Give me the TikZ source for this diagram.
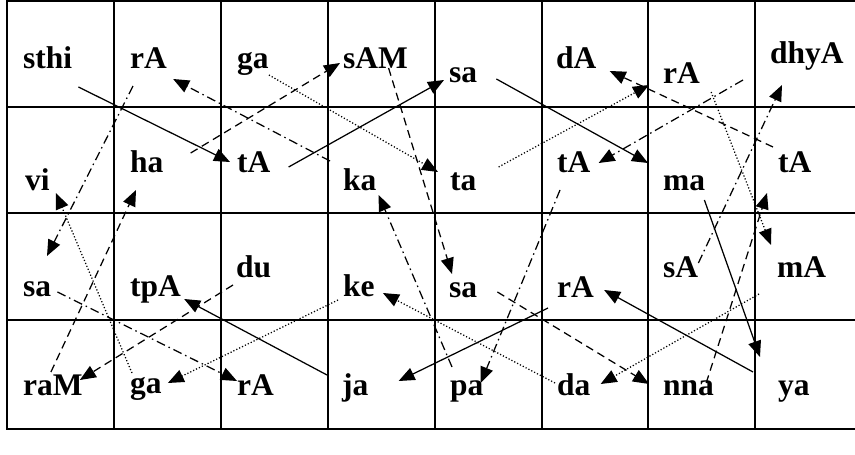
\documentclass[tikz,border=0pt]{standalone}
\usepackage{fontspec}
\setmainfont{Liberation Serif}
\usetikzlibrary{arrows.meta}

\tikzset{
  syl/.style={font=\bfseries\fontsize{31.5}{31.5}\selectfont, inner sep=0pt, anchor=base west},
  hop/.style={line width=1.25pt, -{Triangle[length=16pt,width=13pt]}},
  solidhop/.style={hop},
  dashhop/.style={hop, dash pattern=on 8pt off 5pt},
  dothop/.style={hop, dash pattern=on 1.2pt off 2pt},
  dashdothop/.style={hop, dash pattern=on 9pt off 4pt on 1.5pt off 4pt},
}

\begin{document}
\begin{tikzpicture}[x=1pt,y=-1pt]
  \useasboundingbox (0,0) rectangle (855,455);
  \clip (0,0) rectangle (855,455);

  % 8x4 board
  \foreach \x in {7,114,221,328,435,542,648,755,862}
    \draw[line width=1.5pt] (\x,1) -- (\x,429);
  \foreach \y in {1,107,213,320,429}
    \draw[line width=1.5pt,line cap=rect] (7,\y) -- (862,\y);

  % Row 1
  \node[syl] (sthi) at (23,68) {sthi};
  \node[syl] (rA1) at (130,68) {rA};
  \node[syl] (ga1) at (237,68) {ga};
  \node[syl] (sAM) at (343,68) {sAM};
  \node[syl] (sa1) at (449,82) {sa};
  \node[syl] (dA) at (556,68) {dA};
  \node[syl] (rA2) at (663,83) {rA};
  \node[syl] (dhyA) at (770,63) {dhyA};

  % Row 2
  \node[syl] (vi) at (25,190) {vi};
  \node[syl] (ha) at (130,172) {ha};
  \node[syl] (tA1) at (237,172) {tA};
  \node[syl] (ka) at (343,190) {ka};
  \node[syl] (ta) at (450,190) {ta};
  \node[syl] (tA2) at (557,172) {tA};
  \node[syl] (ma) at (663,190) {ma};
  \node[syl] (tA3) at (778,172) {tA};

  % Row 3
  \node[syl] (sa2) at (23,296) {sa};
  \node[syl] (tpA) at (130,296) {tpA};
  \node[syl] (du) at (236,277) {du};
  \node[syl] (ke) at (343,296) {ke};
  \node[syl] (sa3) at (449,297) {sa};
  \node[syl] (rA3) at (557,297) {rA};
  \node[syl] (sA) at (663,277) {sA};
  \node[syl] (mA) at (777,277) {mA};

  % Row 4
  \node[syl] (raM) at (23,395) {raM};
  \node[syl] (ga2) at (130,393) {ga};
  \node[syl] (rA4) at (237,395) {rA};
  \node[syl] (ja) at (342,395) {ja};
  \node[syl] (pa) at (450,395) {pa};
  \node[syl] (da) at (557,395) {da};
  \node[syl] (nna) at (663,395) {nna};
  \node[syl] (ya) at (778,395) {ya};

  % First verse: solid
  \draw[solidhop] ([shift={(6,19)}]sthi.base east) -- ([shift={(-7,-10)}]tA1.base west);
  \draw[solidhop] ([shift={(18,-5)}]tA1.base east) -- ([shift={(-5,-2)}]sa1.base west);
  \draw[solidhop] ([shift={(19,-3)}]sa1.base east) -- ([shift={(-15,-27)}]ma.base west);
  \draw[solidhop] ([shift={(-1,10)}]ma.base east) -- ([shift={(-18,-38)}]ya.base west);
  \draw[solidhop] ([shift={(-25,-23)}]ya.base west) -- ([shift={(10,-7)}]rA3.base east);
  \draw[solidhop] ([shift={(-9,11)}]rA3.base west) -- ([shift={(30,-14)}]ja.base east);
  \draw[solidhop] ([shift={(-15,-20)}]ja.base west) -- ([shift={(3,3)}]tpA.base east);

  % Second verse: dashed
  \draw[dashhop] ([shift={(-3,8)}]du.base west) -- ([shift={(-3,-15)}]raM.base east);
  \draw[dashhop] ([shift={(-2,-23)}]raM.base) -- ([shift={(6,18)}]ha.base west);
  \draw[dashhop] ([shift={(27,-19)}]ha.base east) -- ([shift={(-3,-5)}]sAM.base west);
  \draw[dashhop] ([shift={(13,0)}]sAM.base) -- ([shift={(3,-23)}]sa3.base west);
  \draw[dashhop] ([shift={(20,-5)}]sa3.base east) -- ([shift={(-14,-11)}]nna.base west);
  \draw[dashhop] ([shift={(-8,-12)}]nna.base east) -- ([shift={(-11,21)}]tA3.base west);
  \draw[dashhop] ([shift={(-5,-25)}]tA3.base west) -- ([shift={(13,3)}]dA.base east);

  % Third verse: dotted
  \draw[dothop] ([shift={(0,7)}]ga1.base east) -- ([shift={(-12,-18)}]ta.base west);
  \draw[dothop] ([shift={(22,-23)}]ta.base east) -- ([shift={(-14,2)}]rA2.base west);
  \draw[dothop] ([shift={(11,9)}]rA2.base east) -- ([shift={(-6,-32)}]mA.base west);
  \draw[dothop] ([shift={(-18,17)}]mA.base west) -- ([shift={(10,-11)}]da.base east);
  \draw[dothop] ([shift={(-2,-12)}]da.base west) -- ([shift={(8,-3)}]ke.base east);
  \draw[dothop] ([shift={(-5,4)}]ke.base west) -- ([shift={(6,-10)}]ga2.base east);
  \draw[dothop] ([shift={(2,-20)}]ga2.base west) -- ([shift={(6,3)}]vi.base east);

  % Fourth verse: dash-dot
  \draw[dashdothop] ([shift={(0,-14)}]sA.base east) -- ([shift={(12,22)}]dhyA.base west);
  \draw[dashdothop] ([shift={(-27,17)}]dhyA.base west) -- ([shift={(8,-9)}]tA2.base east);
  \draw[dashdothop] ([shift={(3,18)}]tA2.base west) -- ([shift={(-3,-12)}]pa.base east);
  \draw[dashdothop] ([shift={(2,-28)}]pa.base west) -- ([shift={(2,5)}]ka.base east);
  \draw[dashdothop] ([shift={(-13,-29)}]ka.base west) -- ([shift={(6,11)}]rA1.base east);
  \draw[dashdothop] ([shift={(3,18)}]rA1.base west) -- ([shift={(24,-40)}]sa2.base west);
  \draw[dashdothop] ([shift={(6,-4)}]sa2.base east) -- ([shift={(0,-14)}]rA4.base west);
\end{tikzpicture}
\end{document}
